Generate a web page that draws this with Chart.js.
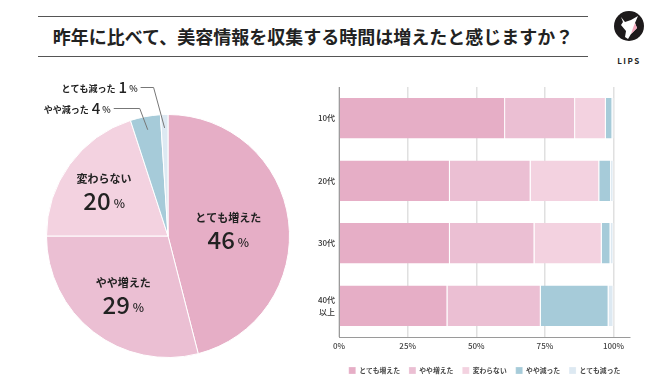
<!DOCTYPE html>
<html>
<head>
<meta charset="utf-8">
<script src="https://cdn.jsdelivr.net/npm/chart.js@4.4.1/dist/chart.umd.min.js"></script>
<style>
    body { margin: 0; background: #fff; }
    #wrap { position: relative; width: 650px; height: 391px; background: #fff; overflow: hidden; font-family: "Noto Sans CJK JP", sans-serif; }
    .rule { position: absolute; left: 38px; width: 550px; height: 0; border-top: 1.5px solid #555; }
    #title { position: absolute; left: 38px; width: 550px; top: 24px; line-height: 24px; text-align: center; font-size: 18px; font-weight: 700; color: #222; }
    #logo { position: absolute; left: 614px; top: 11px; width: 30px; height: 30px; }
    #lips { position: absolute; left: 609px; top: 55px; width: 40px; text-align: center; font: 700 8px "Noto Sans CJK JP"; letter-spacing: 1.5px; color: #222; }
    #pie { position: absolute; left: 0; top: 70px; }
    #bar { position: absolute; left: 300px; top: 80px; }
</style>
</head>
<body>
<div id="wrap">
    <div class="rule" style="top:16px"></div>
    <div id="title">昨年に比べて、美容情報を収集する時間は増えたと感じますか？</div>
    <div class="rule" style="top:56px"></div>
    <svg id="logo" viewBox="0 0 30 30">
        <circle cx="15" cy="15" r="15" fill="#1d1a1b"/>
        <path d="M7 6 L11 11 L17 9 L24 5 L21 12 L23 17 L17 23 L14 28 L11 26 L12 20 L7 14 L9 11 Z" fill="#fff"/>
        <path d="M21 12 L23 17 L17 23 L19 17 Z" fill="#f3a9bd"/>
    </svg>
    <div id="lips">LIPS</div>
    <canvas id="pie" width="340" height="310"></canvas>
    <canvas id="bar" width="340" height="304"></canvas>
</div>
<script>
// answer categories
var answerLabels = ['とても増えた', 'やや増えた', '変わらない', 'やや減った', 'とても減った'];
var answerColors = ['#e6aec6', '#ebbfd3', '#f3d2e0', '#a6cbd9', '#dde9f2'];

// whole sample (%)
var totalValues = [46, 29, 20, 4, 1];

// by age (%)
var ageLabels = [['10代'], ['20代'], ['30代'], ['40代', '以上']];
var veryUp   = [60.5, 40.4, 40.4, 39.5];
var up       = [25.5, 29.4, 30.8, 34.0];
var same     = [11.2, 25.0, 24.5, 0];
var down     = [2.4, 4.3, 3.2, 24.7];
var veryDown = [0.4, 0.9, 1.1, 1.8];

var xTicks = [0, 25, 50, 75, 100];

var FONT = '"Noto Sans CJK JP", sans-serif';

// draws "name" above and "46%" below, or callout for the tiny slices
var pieLabels = {
    id: 'pieLabels',
    afterDatasetsDraw: function (chart) {
        var ctx = chart.ctx;
        var meta = chart.getDatasetMeta(0);
        var data = chart.data.datasets[0].data;
        var inner = [0.5, 0.6, 0.65];
        var callout = { 3: { dx: 8, dy: 6, len: 26, gap: 3 }, 4: { dx: 11, dy: 27, len: 13, gap: 3 } };

        ctx.save();
        meta.data.forEach(function (arc, i) {
            var p = arc.getProps(['x', 'y', 'startAngle', 'endAngle', 'outerRadius'], true);
            var mid = (p.startAngle + p.endAngle) / 2;
            var num = String(data[i]);
            var name = chart.data.labels[i];

            if (i < 3) {
                var r = p.outerRadius * inner[i];
                var cx = p.x + Math.cos(mid) * r;
                var cy = p.y + Math.sin(mid) * r;
                ctx.fillStyle = '#222';
                ctx.textBaseline = 'middle';
                ctx.textAlign = 'center';
                ctx.font = '700 11px ' + FONT;
                ctx.fillText(name, cx, cy - 11);

                ctx.font = '500 24px ' + FONT;
                var w1 = ctx.measureText(num).width;
                ctx.font = '500 12px ' + FONT;
                var w2 = ctx.measureText('%').width;
                var sx = cx - (w1 + 3 + w2) / 2;
                ctx.textAlign = 'left';
                ctx.font = '500 24px ' + FONT;
                ctx.fillText(num, sx, cy + 11);
                ctx.font = '500 12px ' + FONT;
                ctx.fillText('%', sx + w1 + 3, cy + 14);
            } else {
                var c = callout[i];
                var ax = p.x + Math.cos(mid) * p.outerRadius * 0.89;
                var ay = p.y + Math.sin(mid) * p.outerRadius * 0.89;
                var ex = ax - c.dx;
                var ey = p.y - p.outerRadius - c.dy;
                var hx = ex - c.len;
                ctx.strokeStyle = '#777';
                ctx.lineWidth = 1;
                ctx.beginPath();
                ctx.moveTo(ax, ay);
                ctx.lineTo(ex, ey);
                ctx.lineTo(hx, ey);
                ctx.stroke();

                ctx.fillStyle = '#222';
                ctx.textBaseline = 'middle';
                ctx.textAlign = 'right';
                var x = hx - c.gap;
                ctx.font = '500 9px ' + FONT;
                ctx.fillText('%', x, ey + 1);
                x -= ctx.measureText('%').width + 2;
                ctx.font = '500 15px ' + FONT;
                ctx.fillText(num, x, ey);
                x -= ctx.measureText(num).width + 3;
                ctx.font = '700 9px ' + FONT;
                ctx.fillText(name, x, ey + 1);
            }
        });
        ctx.restore();
    }
};

new Chart(document.getElementById('pie').getContext('2d'), {
    type: 'pie',
    data: {
        labels: answerLabels,
        datasets: [{
            data: totalValues,
            backgroundColor: answerColors,
            borderColor: '#fff',
            borderWidth: 1
        }]
    },
    options: {
        responsive: false,
        animation: false,
        layout: { padding: { left: 46, top: 44, right: 50, bottom: 22 } },
        plugins: { legend: { display: false }, tooltip: { enabled: false } }
    },
    plugins: [pieLabels]
});

var ageSeries = [veryUp, up, same, down, veryDown];
var barSets = [];
for (var i = 0; i < answerLabels.length; i++) {
    barSets.push({
        label: answerLabels[i],
        data: ageSeries[i],
        backgroundColor: answerColors[i],
        borderColor: '#fff',
        borderWidth: { left: 0, right: 1, top: 0, bottom: 0 },
        borderSkipped: false,
        categoryPercentage: 1,
        barPercentage: 0.645
    });
}

new Chart(document.getElementById('bar').getContext('2d'), {
    type: 'bar',
    data: { labels: ageLabels, datasets: barSets },
    options: {
        responsive: false,
        animation: false,
        indexAxis: 'y',
        layout: { padding: { top: 7, right: 10, left: 0, bottom: 0 } },
        scales: {
            x: {
                stacked: true,
                min: 0,
                max: 106,
                afterBuildTicks: function (scale) {
                    scale.ticks = xTicks.map(function (v) { return { value: v }; });
                },
                afterFit: function (scale) { scale.height = 21; },
                grid: { color: '#e0e0e0', lineWidth: 1.5, drawTicks: false },
                border: { display: true, color: '#9a9a9a', width: 1 },
                ticks: {
                    padding: 4,
                    color: '#444',
                    font: { family: FONT, size: 8, weight: '500' },
                    callback: function (v) { return v + '%'; }
                }
            },
            y: {
                stacked: true,
                afterFit: function (scale) {
                    scale.width = 39;
                    scale.paddingTop = 0;
                    scale.paddingBottom = 0;
                },
                grid: { display: false, drawTicks: false },
                border: { display: true, color: '#9a9a9a', width: 1 },
                ticks: {
                    padding: 4,
                    color: '#333',
                    font: { family: FONT, size: 8, weight: '500', lineHeight: 1.5 }
                }
            }
        },
        plugins: {
            tooltip: { enabled: false },
            legend: {
                position: 'bottom',
                fullSize: false,
                labels: {
                    boxWidth: 7,
                    boxHeight: 7,
                    padding: 9,
                    color: '#444',
                    font: { family: FONT, size: 6.8, weight: '700' }
                }
            }
        }
    }
});
</script>
</body>
</html>
